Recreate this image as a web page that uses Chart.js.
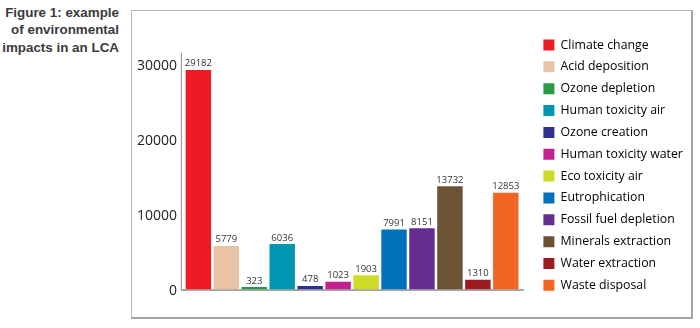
<!DOCTYPE html>
<html>
<head>
<meta charset="utf-8">
<script src="https://cdn.jsdelivr.net/npm/chart.js@4/dist/chart.umd.min.js"></script>
<style>
    html, body { margin: 0; padding: 0; background: #fff; }
    #wrap { position: relative; width: 700px; height: 328px; overflow: hidden; }
    #frame {
        position: absolute; left: 131px; top: 10px; width: 559px; height: 306px;
        border-left: 1px solid #b4b4b4; border-top: 1px solid #b4b4b4;
        border-right: 2px solid #a4a4a4; border-bottom: 2px solid #a4a4a4;
    }
    #caption {
        position: absolute; left: 0; top: 4px; width: 119px; text-align: right;
        font: bold 13.4px "Liberation Sans", sans-serif; line-height: 17.3px; color: #3a3a3a;
    }
    #chart { position: absolute; left: 0; top: 0; }
</style>
</head>
<body>
<div id="wrap">
    <div id="frame"></div>
    <div id="caption">Figure 1: example<br>of environmental<br>impacts in an LCA</div>
    <canvas id="chart" width="700" height="328"></canvas>
</div>
<script>
// Data
const categories = [
    'Climate change', 'Acid deposition', 'Ozone depletion', 'Human toxicity air',
    'Ozone creation', 'Human toxicity water', 'Eco toxicity air', 'Eutrophication',
    'Fossil fuel depletion', 'Minerals extraction', 'Water extraction', 'Waste disposal'
];
const impacts = [29182, 5779, 323, 6036, 478, 1023, 1903, 7991, 8151, 13732, 1310, 12853];
const barColors = [
    '#ed1c24', '#e8c3a6', '#2a9a46', '#0096b1', '#2e3192', '#c2218e',
    '#cddc29', '#0072bc', '#662d91', '#6b5334', '#9b1b1f', '#f26522'
];
const yTickValues = [0, 10000, 20000, 30000];
const yAxisTop = 31500;
const yMax = 34600;

const legendFont = 12.3;
const legendGap = 21.85 - legendFont;

const axisLines = {
    id: 'axisLines',
    beforeDatasetsDraw(chart) {
        const { ctx, chartArea } = chart;
        const y = chart.scales.y;
        const y0 = y.getPixelForValue(0);
        const yTop = y.getPixelForValue(yAxisTop);
        ctx.save();
        ctx.strokeStyle = '#8c8c8c';
        ctx.lineWidth = 1;
        ctx.beginPath();
        ctx.moveTo(chartArea.left - 3, yTop);
        ctx.lineTo(chartArea.left - 3, y0);
        ctx.stroke();
        ctx.strokeStyle = '#a8a8a8';
        ctx.lineWidth = 2;
        ctx.beginPath();
        ctx.moveTo(chartArea.left - 3.5, y0 + 0.5);
        ctx.lineTo(chartArea.right + 4, y0 + 0.5);
        ctx.stroke();
        ctx.restore();
    }
};

const valueLabels = {
    id: 'valueLabels',
    afterDatasetsDraw(chart) {
        const { ctx } = chart;
        const meta = chart.getDatasetMeta(0);
        ctx.save();
        ctx.font = '9.5px "Open Sans"';
        ctx.fillStyle = '#333';
        ctx.textAlign = 'center';
        ctx.textBaseline = 'bottom';
        meta.data.forEach((bar, i) => {
            ctx.fillText(impacts[i], bar.x, bar.y - 1.5);
        });
        ctx.restore();
    }
};

function buildChart() {
    // legend is wide enough for the longest label, the rest goes to right padding
    const longest = categories.reduce((a, b) => a.length > b.length ? a : b);
    const mctx = document.createElement('canvas').getContext('2d');
    mctx.font = legendFont + 'px "Open Sans"';
    const longestW = mctx.measureText(longest).width;
    const padRight = Math.max(0, 121.3 - longestW);

    new Chart(document.getElementById('chart'), {
        type: 'bar',
        data: {
            labels: categories,
            datasets: [{
                data: impacts,
                backgroundColor: barColors,
                borderWidth: 0,
                categoryPercentage: 1,
                barPercentage: 0.91,
                xAxisID: 'x',
                yAxisID: 'y'
            }]
        },
        options: {
            responsive: false,
            animation: false,
            layout: { padding: { left: 0, top: 29.3, bottom: 0, right: padRight } },
            scales: {
                x: {
                    grid: { display: false },
                    border: { display: false },
                    ticks: { display: false },
                    afterFit: s => { s.height = 38.5; }
                },
                y: {
                    min: 0,
                    max: yMax,
                    grid: { display: false, drawTicks: false },
                    border: { display: false },
                    afterBuildTicks: s => { s.ticks = yTickValues.map(v => ({ value: v })); },
                    afterFit: s => { s.width = 184.4; },
                    ticks: {
                        padding: 7.4,
                        labelOffset: 2,
                        color: '#222',
                        font: { family: 'Open Sans', size: 14 },
                        callback: v => String(v)
                    }
                },
                spacer: {
                    type: 'linear',
                    position: 'right',
                    display: false,
                    afterFit: s => { s.width = 14.05; }
                }
            },
            plugins: {
                tooltip: { enabled: false },
                legend: {
                    position: 'right',
                    align: 'start',
                    labels: {
                        boxWidth: 11,
                        boxHeight: 11,
                        padding: legendGap,
                        color: '#333',
                        font: { family: 'Open Sans', size: legendFont },
                        generateLabels: chart => categories.map((c, i) => ({
                            text: c,
                            fillStyle: barColors[i],
                            strokeStyle: barColors[i],
                            lineWidth: 0,
                            index: i
                        }))
                    }
                }
            }
        },
        plugins: [axisLines, valueLabels]
    });
}

Promise.all([
    document.fonts.load('12px "Open Sans"'),
    document.fonts.load('bold 13px "Liberation Sans"')
]).catch(() => null).then(buildChart);
</script>
</body>
</html>
